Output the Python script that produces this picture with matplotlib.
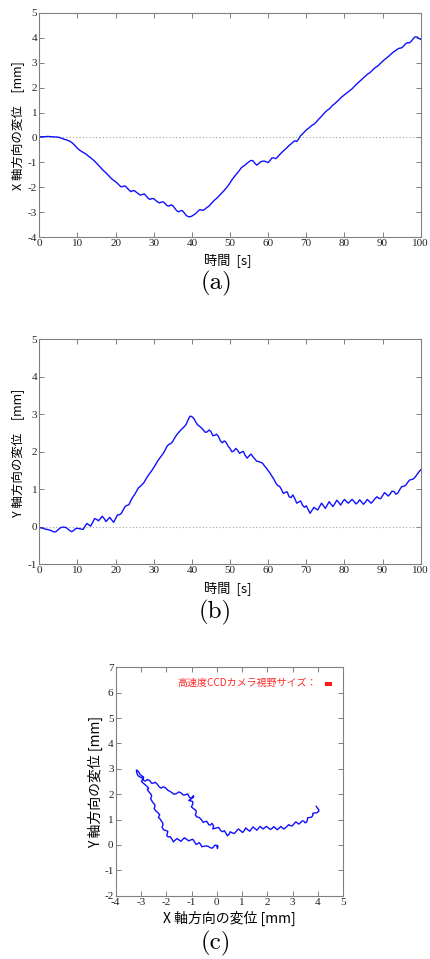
import numpy as np
import matplotlib
matplotlib.use("Agg")
import matplotlib.pyplot as plt
from matplotlib.patches import Rectangle

# ---------------- data ----------------
time_s = np.arange(0, 100.5, 0.5)

x_disp = [
    0.03, 0.03, 0.03, 0.03, 0.04, 0.04, 0.03, 0.03, 0.02, 0.02,
    0.01, -0.01, -0.04, -0.07, -0.09, -0.12, -0.15, -0.20, -0.27, -0.35,
    -0.43, -0.50, -0.55, -0.60, -0.64, -0.70, -0.76, -0.82, -0.88, -0.95,
    -1.03, -1.11, -1.19, -1.28, -1.35, -1.42, -1.50, -1.58, -1.66, -1.72,
    -1.77, -1.84, -1.92, -1.98, -1.96, -1.94, -2.02, -2.10, -2.17, -2.13,
    -2.14, -2.20, -2.26, -2.31, -2.29, -2.26, -2.34, -2.43, -2.48, -2.45,
    -2.45, -2.52, -2.58, -2.62, -2.59, -2.58, -2.65, -2.73, -2.75, -2.70,
    -2.73, -2.83, -2.93, -2.98, -2.94, -2.93, -3.02, -3.12, -3.17, -3.18,
    -3.15, -3.10, -3.05, -2.97, -2.90, -2.90, -2.92, -2.86, -2.80, -2.75,
    -2.66, -2.58, -2.50, -2.44, -2.36, -2.28, -2.20, -2.12, -2.03, -1.93,
    -1.82, -1.70, -1.60, -1.50, -1.41, -1.31, -1.21, -1.15, -1.10, -1.03,
    -0.97, -0.92, -0.93, -1.03, -1.11, -1.05, -0.98, -0.95, -0.95, -0.97,
    -1.01, -0.92, -0.82, -0.82, -0.85, -0.78, -0.69, -0.61, -0.54, -0.47,
    -0.40, -0.32, -0.26, -0.19, -0.13, -0.16, -0.06, 0.07, 0.14, 0.22,
    0.30, 0.36, 0.42, 0.49, 0.53, 0.60, 0.69, 0.77, 0.85, 0.94,
    1.02, 1.09, 1.14, 1.22, 1.30, 1.36, 1.43, 1.50, 1.58, 1.65,
    1.71, 1.77, 1.83, 1.89, 1.95, 2.03, 2.11, 2.18, 2.25, 2.32,
    2.39, 2.46, 2.53, 2.58, 2.64, 2.72, 2.79, 2.84, 2.90, 2.98,
    3.05, 3.12, 3.18, 3.24, 3.31, 3.38, 3.44, 3.49, 3.55, 3.58,
    3.59, 3.66, 3.75, 3.80, 3.79, 3.85, 3.95, 4.03, 4.03, 3.97,
    3.93,
]

y_disp = [
    -0.02, -0.03, -0.04, -0.06, -0.07, -0.08, -0.10, -0.12, -0.14, -0.12,
    -0.07, -0.03, -0.01, -0.01, -0.02, -0.06, -0.10, -0.13, -0.10, -0.05,
    -0.04, -0.05, -0.06, -0.07, 0.02, 0.09, 0.05, 0.02, 0.12, 0.22,
    0.20, 0.16, 0.22, 0.28, 0.22, 0.14, 0.20, 0.25, 0.18, 0.12,
    0.22, 0.32, 0.32, 0.36, 0.45, 0.54, 0.57, 0.59, 0.70, 0.79,
    0.86, 0.95, 1.04, 1.08, 1.13, 1.19, 1.28, 1.36, 1.43, 1.50,
    1.58, 1.66, 1.75, 1.82, 1.89, 1.96, 2.05, 2.15, 2.20, 2.22,
    2.28, 2.37, 2.45, 2.51, 2.57, 2.62, 2.67, 2.73, 2.85, 2.95,
    2.94, 2.89, 2.80, 2.72, 2.68, 2.64, 2.58, 2.52, 2.53, 2.58,
    2.54, 2.43, 2.44, 2.47, 2.40, 2.29, 2.24, 2.29, 2.25, 2.15,
    2.09, 2.00, 2.02, 2.09, 2.04, 1.96, 1.99, 2.01, 1.90, 1.83,
    1.89, 1.94, 1.87, 1.81, 1.75, 1.74, 1.72, 1.70, 1.63, 1.57,
    1.50, 1.43, 1.35, 1.27, 1.17, 1.10, 1.08, 0.99, 0.89, 0.92,
    0.93, 0.80, 0.78, 0.85, 0.75, 0.63, 0.66, 0.69, 0.58, 0.52,
    0.56, 0.46, 0.36, 0.44, 0.52, 0.48, 0.45, 0.54, 0.63, 0.56,
    0.49, 0.58, 0.67, 0.60, 0.54, 0.62, 0.71, 0.65, 0.58, 0.66,
    0.73, 0.68, 0.63, 0.68, 0.73, 0.68, 0.61, 0.65, 0.72, 0.66,
    0.60, 0.66, 0.73, 0.68, 0.63, 0.68, 0.75, 0.80, 0.76, 0.75,
    0.83, 0.91, 0.87, 0.82, 0.88, 0.95, 0.94, 0.87, 0.90, 0.99,
    1.07, 1.08, 1.10, 1.17, 1.24, 1.26, 1.27, 1.32, 1.39, 1.46,
    1.52,
]

time_ticks = [0, 10, 20, 30, 40, 50, 60, 70, 80, 90, 100]
xdisp_ticks = [-4, -3, -2, -1, 0, 1, 2, 3, 4, 5]
ydisp_ticks = [-1, 0, 1, 2, 3, 4, 5]
xy_xticks = [-4, -3, -2, -1, 0, 1, 2, 3, 4, 5]
xy_yticks = [-2, -1, 0, 1, 2, 3, 4, 5, 6, 7]

ccd_fov_w = 0.26   # mm
ccd_fov_h = 0.16   # mm

# ---------------- styling ----------------
plt.rcParams['axes.unicode_minus'] = False
W, H = 430, 959
fig = plt.figure(figsize=(W / 100, H / 100), dpi=100)

JP = ['Noto Sans CJK JP', 'DejaVu Sans']
SERIF = 'Liberation Serif'
LINE = '#1010ff'
FRAME = '#808080'


def fx(px):
    return px / W


def fy(py):
    return 1 - py / H


def ax_box(l, t, r, b):
    return [fx(l), fy(b), fx(r) - fx(l), fy(t) - fy(b)]


def style(ax, xt, yt):
    ax.set_xticks(xt)
    ax.set_yticks(yt)
    ax.set_xticklabels([str(v) for v in xt], fontfamily=SERIF, fontsize=8)
    ax.set_yticklabels([str(v) for v in yt], fontfamily=SERIF, fontsize=8)
    ax.tick_params(direction='in', length=3.5, width=0.7, color=FRAME,
                   top=True, right=True, pad=1.5, labelcolor='#222222')
    for s in ax.spines.values():
        s.set_color(FRAME)
        s.set_linewidth(0.8)


# (a)
ax1 = fig.add_axes(ax_box(39.3, 12.7, 420.7, 237.3))
ax1.axhline(0, color='#a0a0a0', linestyle=(0, (1, 2)), linewidth=0.8)
ax1.plot(time_s, x_disp, color=LINE, linewidth=1.0)
ax1.set_xlim(0, 100)
ax1.set_ylim(-4, 5)
style(ax1, time_ticks, xdisp_ticks)
fig.text(fx(18), fy(126), 'X 軸方向の変位\u3000[mm]', rotation=90, ha='center',
         va='center', family=JP, fontsize=9)
fig.text(fx(228), fy(260), '時間  [s]', ha='center', va='center', family=JP,
         fontsize=9.5)
fig.text(fx(216), fy(283), '(a)', ha='center', va='center', family='cmr10',
         fontsize=18)

# (b)
ax2 = fig.add_axes(ax_box(39.3, 339.3, 420.7, 564.3))
ax2.axhline(0, color='#a0a0a0', linestyle=(0, (1, 2)), linewidth=0.8)
ax2.plot(time_s, y_disp, color=LINE, linewidth=1.0)
ax2.set_xlim(0, 100)
ax2.set_ylim(-1, 5)
style(ax2, time_ticks, ydisp_ticks)
fig.text(fx(18), fy(453), 'Y 軸方向の変位\u3000[mm]', rotation=90, ha='center',
         va='center', family=JP, fontsize=9)
fig.text(fx(228), fy(588), '時間  [s]', ha='center', va='center', family=JP,
         fontsize=9.5)
fig.text(fx(215), fy(612), '(b)', ha='center', va='center', family='cmr10',
         fontsize=18)

# (c)
ax3 = fig.add_axes(ax_box(115.7, 667.3, 343.3, 895.7))
ax3.plot(x_disp, y_disp, color=LINE, linewidth=1.0)
ax3.set_xlim(-4, 5)
ax3.set_ylim(-2, 7)
style(ax3, xy_xticks, xy_yticks)
ax3.add_patch(Rectangle((4.41 - ccd_fov_w / 2, 6.35 - ccd_fov_h / 2),
                        ccd_fov_w, ccd_fov_h, facecolor='#ff1a1a',
                        edgecolor='none'))
ax3.text(3.96, 6.37, '高速度CCDカメラ視野サイズ：', ha='right', va='center',
         color='#ff2a2a', family=JP, fontsize=7.2)
fig.text(fx(95), fy(782), 'Y 軸方向の変位 [mm]', rotation=90, ha='center',
         va='center', family=JP, fontsize=10)
fig.text(fx(229), fy(918), 'X 軸方向の変位 [mm]', ha='center', va='center',
         family=JP, fontsize=10)
fig.text(fx(216), fy(943), '(c)', ha='center', va='center', family='cmr10',
         fontsize=18)

fig.savefig('out.png', dpi=100)
